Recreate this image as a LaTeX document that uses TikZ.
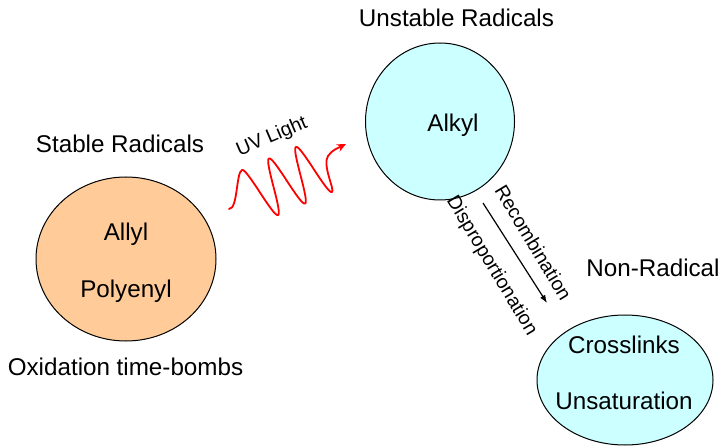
\documentclass[tikz,border=0pt]{standalone}
\usepackage{fontspec}
\setmainfont{Liberation Sans}
\usetikzlibrary{arrows.meta,shapes.geometric}
\definecolor{peach}{HTML}{FFCC99}
\definecolor{paleCyan}{HTML}{CCFFFF}
\definecolor{waveRed}{HTML}{FF0000}
\begin{document}
\begin{tikzpicture}[x=1pt,y=-1pt,
  blob/.style={draw=black, line width=1pt, ellipse, inner sep=0pt},
  big/.style={font=\fontsize{24.2pt}{29pt}\selectfont, inner sep=0pt, anchor=base},
  small/.style={font=\fontsize{19.5pt}{23pt}\selectfont, inner sep=0pt},
  wave/.style={draw=waveRed, line width=1.8pt, line join=round, line cap=round}]
\useasboundingbox (0,0) rectangle (720,446);
\fill[white] (0,0) rectangle (720,446);
% ellipses
\node[blob, fill=peach, minimum width=180pt, minimum height=164pt] (stable) at (126,259) {};
\node[blob, fill=paleCyan, minimum width=149pt, minimum height=157pt] (alkylE) at (440,121.5) {};
\node[blob, fill=paleCyan, minimum width=176pt, minimum height=130pt] (nonrad) at (625,380) {};
% titles
\node[big] (tStable) at (120,153) {Stable Radicals};
\node[big] (tOx) at (125.5,375) {Oxidation time-bombs};
\node[big] (tUnst) at (456.5,27) {Unstable Radicals};
\node[big] (tNon) at (653,277) {Non-Radical};
% inner texts
\node[big] (allyl) at (126,241) {Allyl};
\node[big] (poly) at (126,298) {Polyenyl};
\node[big] (alkyl) at (453,132) {Alkyl};
\node[big] (cross) at (624,353) {Crosslinks};
\node[big] (unsat) at (624,409) {Unsaturation};
% reaction arrow and labels
\coordinate (a1) at (483,203);
\coordinate (a2) at (547,303);
\draw[line width=1.2pt, -{Latex[length=8pt,width=6pt]}] (a1) -- (a2);
\node[small, rotate=-59] (rec) at (533.5,242.5) {Recombination};
\node[small, rotate=-59] (disp) at (491.5,266) {Disproportionation};
% UV light wave
\node[small, rotate=23] (uv) at (272,137) {UV Light};
\coordinate (w0) at (229,209);
\coordinate (w1) at (242,170);
\coordinate (wEnd) at (346,144);
\draw[wave, -{Stealth[length=9pt,width=8pt]}]
  (w0) .. controls (238,209) and (236,172.5) .. (w1)
  -- plot[domain=0:5*pi, samples=200, variable=\t]
     ({253.25 + \t/pi*13.5 - 11.25*cos(\t r)}, {195.4 - \t/pi*5.75 - 25.4*cos(\t r)})
  .. controls (335,190) and (322,165) .. (328,156)
  .. controls (332,150) and (338,148) .. (wEnd);
\end{tikzpicture}
\end{document}
